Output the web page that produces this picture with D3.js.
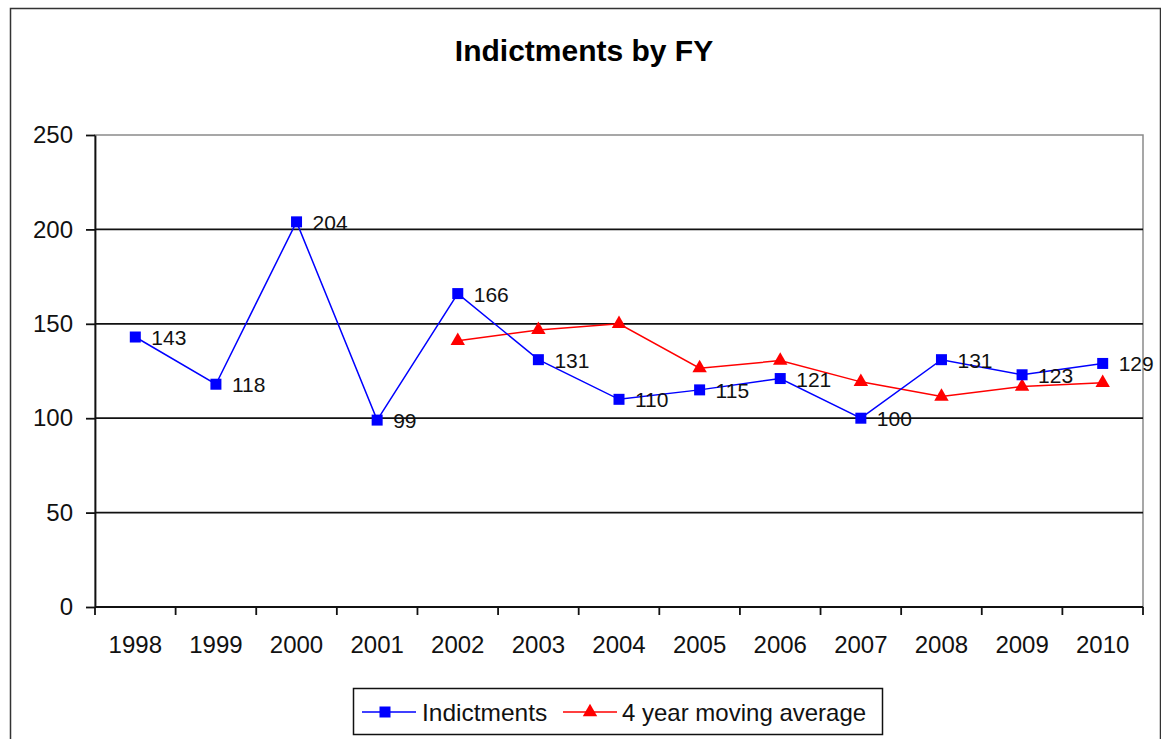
<!DOCTYPE html>
<html>
<head>
<meta charset="utf-8">
<script src="https://cdn.jsdelivr.net/npm/d3@7"></script>
<style>
  body { margin: 0; background: #fff; }
  svg { display: block; font-family: "Liberation Sans", Arial, sans-serif; }
</style>
</head>
<body>
<div id="chart"></div>
<script>
// Data
const years = ["1998", "1999", "2000", "2001", "2002", "2003", "2004", "2005", "2006", "2007", "2008", "2009", "2010"];
const indictments = [143, 118, 204, 99, 166, 131, 110, 115, 121, 100, 131, 123, 129];
const movingAvgYears = ["2002", "2003", "2004", "2005", "2006", "2007", "2008", "2009", "2010"];
const movingAvg = [141, 146.75, 150, 126.5, 130.5, 119.25, 111.5, 116.75, 118.75];
const yTicks = [0, 50, 100, 150, 200, 250];

const W = 1161, H = 739;
const plot = { left: 95, top: 135, right: 1143, bottom: 607 };

const svg = d3.select("#chart")
  .append("svg")
    .attr("width", W)
    .attr("height", H);

// outer chart border
svg.append("rect")
    .attr("x", 10.5).attr("y", 8.5)
    .attr("width", 1150).attr("height", 745)
    .attr("fill", "#fff")
    .attr("stroke", "#333")
    .attr("stroke-width", 1.5);

// Title
svg.append("text")
    .attr("x", 584).attr("y", 61)
    .attr("text-anchor", "middle")
    .attr("font-size", 30)
    .attr("font-weight", "bold")
    .attr("fill", "#000")
    .text("Indictments by FY");

// Scales
const x = d3.scaleBand()
    .domain(years)
    .range([plot.left, plot.right]);

const y = d3.scaleLinear()
    .domain([0, 250])
    .range([plot.bottom, plot.top]);

// plot area frame (grey top / right)
svg.append("rect")
    .attr("x", plot.left).attr("y", plot.top)
    .attr("width", plot.right - plot.left)
    .attr("height", plot.bottom - plot.top)
    .attr("fill", "none")
    .attr("stroke", "#8a8a8a")
    .attr("stroke-width", 1.5);

// gridlines
svg.append("g")
  .selectAll("line")
  .data(yTicks.filter(d => d > 0 && d < 250))
  .join("line")
    .attr("x1", plot.left).attr("x2", plot.right)
    .attr("y1", d => y(d)).attr("y2", d => y(d))
    .attr("stroke", "#111")
    .attr("stroke-width", 1.8);

// Y axis
const yAxis = svg.append("g")
    .attr("transform", `translate(${plot.left}, 0)`)
    .call(d3.axisLeft(y).tickValues(yTicks).tickSize(9).tickPadding(13).tickSizeOuter(0));
yAxis.select(".domain").attr("stroke", "#111").attr("stroke-width", 1.8);
yAxis.selectAll(".tick line").attr("stroke", "#111").attr("stroke-width", 1.8);
yAxis.selectAll(".tick text")
    .attr("font-size", 24)
    .attr("fill", "#111")
    .attr("font-family", "Liberation Sans, Arial, sans-serif");

// X axis (ticks at category boundaries)
const boundaries = years.map(d => x(d)).concat([plot.right]);
const xAxisG = svg.append("g");
xAxisG.append("line")
    .attr("x1", plot.left).attr("x2", plot.right)
    .attr("y1", plot.bottom).attr("y2", plot.bottom)
    .attr("stroke", "#111").attr("stroke-width", 1.8);
xAxisG.selectAll(".xtick")
  .data(boundaries)
  .join("line")
    .attr("class", "xtick")
    .attr("x1", d => d).attr("x2", d => d)
    .attr("y1", plot.bottom).attr("y2", plot.bottom + 8)
    .attr("stroke", "#111").attr("stroke-width", 1.8);
xAxisG.selectAll(".xlabel")
  .data(years)
  .join("text")
    .attr("class", "xlabel")
    .attr("x", d => x(d) + x.bandwidth() / 2)
    .attr("y", 653)
    .attr("text-anchor", "middle")
    .attr("font-size", 24)
    .attr("fill", "#111")
    .text(d => d);

const cx = d => x(d) + x.bandwidth() / 2;

// Moving average line (red, triangles)
const maData = movingAvgYears.map((yr, i) => ({ year: yr, value: movingAvg[i] }));
const line = d3.line()
    .x(d => cx(d.year))
    .y(d => y(d.value));

svg.append("path")
    .datum(maData)
    .attr("fill", "none")
    .attr("stroke", "#ff0000")
    .attr("stroke-width", 1.5)
    .attr("d", line);

const tri = d3.symbol().type(d3.symbolTriangle).size(90);
svg.append("g")
  .selectAll("path")
  .data(maData)
  .join("path")
    .attr("transform", d => `translate(${cx(d.year)}, ${y(d.value)})`)
    .attr("d", tri)
    .attr("fill", "#ff0000");

// Indictments line (blue, squares)
const indData = years.map((yr, i) => ({ year: yr, value: indictments[i] }));
svg.append("path")
    .datum(indData)
    .attr("fill", "none")
    .attr("stroke", "#0000ff")
    .attr("stroke-width", 1.5)
    .attr("d", line);

svg.append("g")
  .selectAll("rect")
  .data(indData)
  .join("rect")
    .attr("x", d => cx(d.year) - 5.5)
    .attr("y", d => y(d.value) - 5.5)
    .attr("width", 11).attr("height", 11)
    .attr("fill", "#0000ff");

// data labels
svg.append("g")
  .selectAll("text")
  .data(indData)
  .join("text")
    .attr("x", d => cx(d.year) + 16)
    .attr("y", d => y(d.value) + 8)
    .attr("font-size", 21)
    .attr("fill", "#111")
    .text(d => d.value);

// Legend
const legend = svg.append("g");
legend.append("rect")
    .attr("x", 353.5).attr("y", 688.5)
    .attr("width", 529).attr("height", 46)
    .attr("fill", "#fff")
    .attr("stroke", "#111")
    .attr("stroke-width", 1.5);

const legY = 712;
legend.append("line")
    .attr("x1", 362).attr("x2", 416)
    .attr("y1", legY).attr("y2", legY)
    .attr("stroke", "#0000ff").attr("stroke-width", 1.5);
legend.append("rect")
    .attr("x", 385 - 5.5).attr("y", legY - 5.5)
    .attr("width", 11).attr("height", 11)
    .attr("fill", "#0000ff");
legend.append("text")
    .attr("x", 422).attr("y", legY + 9)
    .attr("font-size", 24.5)
    .attr("fill", "#111")
    .text("Indictments");

legend.append("line")
    .attr("x1", 563).attr("x2", 617)
    .attr("y1", legY).attr("y2", legY)
    .attr("stroke", "#ff0000").attr("stroke-width", 1.5);
legend.append("path")
    .attr("transform", `translate(590, ${legY})`)
    .attr("d", tri)
    .attr("fill", "#ff0000");
legend.append("text")
    .attr("x", 622).attr("y", legY + 9)
    .attr("font-size", 24)
    .attr("fill", "#111")
    .text("4 year moving average");
</script>
</body>
</html>
